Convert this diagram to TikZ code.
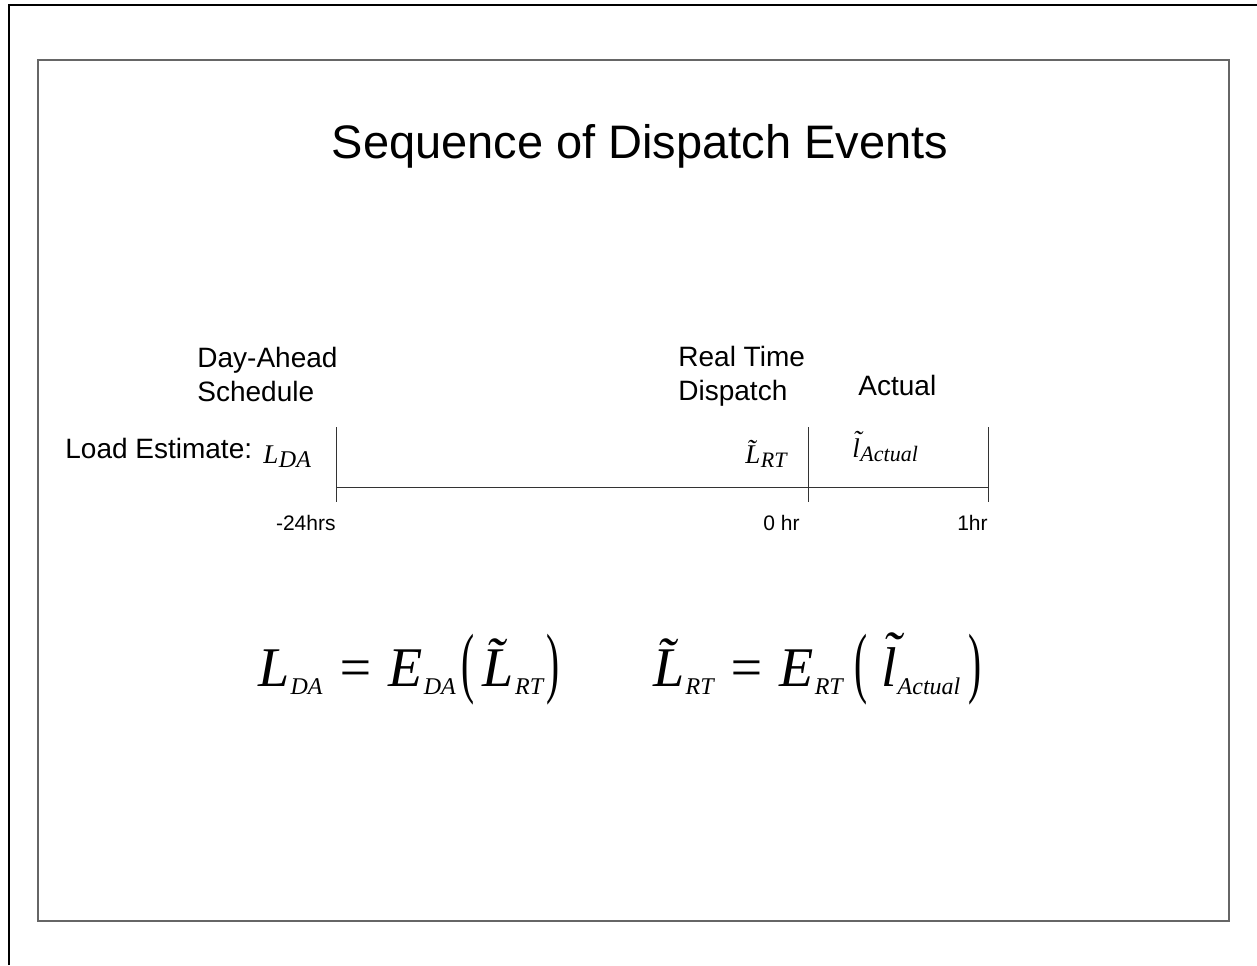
\documentclass[tikz,border=0pt]{standalone}
\usepackage{fontspec}
\setmainfont{Liberation Sans}
\newfontfamily\eqfont{Liberation Serif}
\usetikzlibrary{positioning}

% variable with subscript: base, subscript, subscript size
\newcommand{\evar}[3]{#1\kern0.02em\raisebox{-0.15em}{\fontsize{#3}{#3}\selectfont #2}}
% small letter l with a raised tilde
\newcommand{\tildel}{\rlap{\raisebox{0.28em}{\kern0.02em\char"02DC}}l}
\newcommand{\bigparen}[1]{{\upshape\raisebox{-0.04em}{\scalebox{0.7}[1.4]{#1}}}}

\tikzset{
  title/.style={font=\fontsize{23.5}{28}\selectfont, inner sep=0pt},
  lbl/.style={font=\fontsize{14}{17}\selectfont, inner sep=0pt, align=left},
  ticklbl/.style={font=\fontsize{10.5}{12}\selectfont, inner sep=0pt},
  sym/.style={font=\eqfont\itshape\fontsize{13.5}{16}\selectfont, inner sep=0pt},
  eq/.style={font=\eqfont\itshape\fontsize{28}{32}\selectfont, inner sep=0pt},
  axis/.style={line width=0.5pt, black!80}
}

\begin{document}
\begin{tikzpicture}[x=0.5pt, y=-0.5pt]
\useasboundingbox (0,0) rectangle (1257,965);
% frames
\draw[line width=1pt] (8.5,965) -- (8.5,5) -- (1257,5);
\draw[black!60, line width=0.6pt] (38,60) rectangle (1229,921);

% title
\node[title, anchor=base] (ttl) at (640,158) {Sequence of Dispatch Events};

% timeline
\coordinate (tda) at (336,487);
\coordinate (trt) at (808,487);
\coordinate (tac) at (988,487);
\draw[axis] (tda) -- (tac);
\foreach \t in {tda,trt,tac}
  \draw[axis] ([yshift=30pt]\t) -- ([yshift=-7.5pt]\t);

\node[ticklbl, anchor=north east] (lda) at ([yshift=-14pt]tda) {-24hrs};
\node[ticklbl, anchor=north east] (lrt) at ([xshift=-4pt, yshift=-14pt]trt) {0 hr};
\node[ticklbl, anchor=north east] (lac) at ([yshift=-14pt]tac) {1hr};

% event labels
\node[lbl, anchor=base west] (dah) at (197,401) {Day-Ahead\\Schedule};
\node[lbl, anchor=base west] (rtd) at (678,400) {Real Time\\Dispatch};
\node[lbl, anchor=base west] (act) at (858,395) {Actual};

% load estimates
\node[lbl, anchor=base west] (ldest) at (65,458) {Load Estimate:};
\node[sym, anchor=base west] (sda) at (263,463) {\evar{L}{DA}{12}};
\node[sym, anchor=base west] (srt) at (745,463) {\evar{\~{L}}{RT}{11}};
\node[sym, anchor=base west] (sac) at (852,457) {\evar{\tildel}{Actual}{11}};

% relations
\node[eq, anchor=base west] (eqda) at (258,686)
  {\evar{L}{DA}{12} = \evar{E}{DA}{12}\kern0.1em\bigparen{(}\kern0.15em\evar{\~{L}}{RT}{12}\kern0.06em\bigparen{)}};
\node[eq, anchor=base west] (eqrt) at (653,686)
  {\evar{\~{L}}{RT}{12} = \evar{E}{RT}{12}\kern0.2em\bigparen{(}\kern0.25em\evar{\tildel}{Actual}{12}\kern0.15em\bigparen{)}};
\end{tikzpicture}
\end{document}
